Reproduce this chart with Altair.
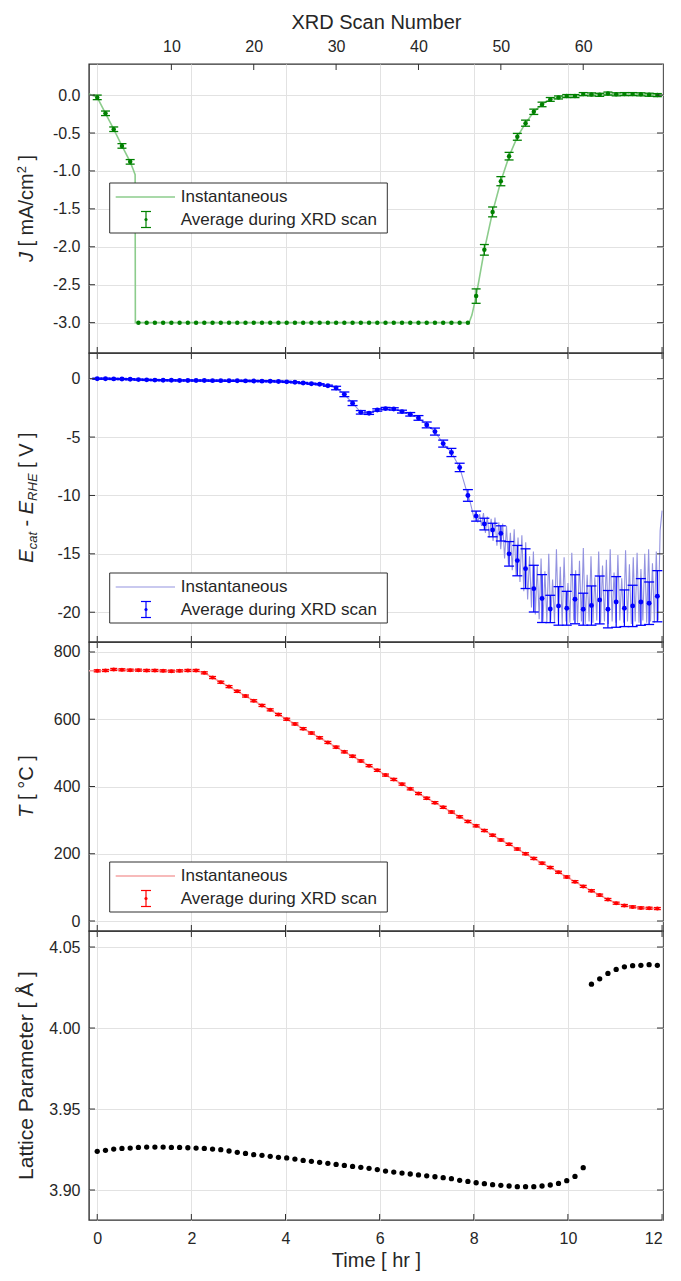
import altair as alt
import pandas as pd

FONT = "Liberation Sans, Arial, Helvetica, sans-serif"
TXT = "#262626"
FRAME = "#303030"
GRID = "#e2e2e2"
W, H = 574, 289
XDOM = [-0.175, 12.02]
XTICKS = [0, 2, 4, 6, 8, 10, 12]

# ---------------- data ----------------
SCAN_INTERVAL_HR = 0.175
scan_number = list(range(1, 70))
time_hr = [round((s - 1) * SCAN_INTERVAL_HR, 4) for s in scan_number]
scan_ticks = [10, 20, 30, 40, 50, 60]

J_avg = [-0.03, -0.24, -0.45, -0.67, -0.88,
         -3.0, -3.0, -3.0, -3.0, -3.0, -3.0, -3.0, -3.0, -3.0, -3.0,
         -3.0, -3.0, -3.0, -3.0, -3.0, -3.0, -3.0, -3.0, -3.0, -3.0,
         -3.0, -3.0, -3.0, -3.0, -3.0, -3.0, -3.0, -3.0, -3.0, -3.0,
         -3.0, -3.0, -3.0, -3.0, -3.0, -3.0, -3.0, -3.0, -3.0, -3.0, -3.0,
         -2.65, -2.04, -1.54, -1.135, -0.805, -0.55, -0.37, -0.22, -0.123, -0.057,
         -0.031, -0.013, -0.013, 0.013, 0.009, 0.004, 0.02, 0.01, 0.013, 0.013,
         0.01, 0.005, 0.0]
J_err = [0.03, 0.03, 0.03, 0.03, 0.03,
         0, 0, 0, 0, 0, 0, 0, 0, 0, 0, 0, 0, 0, 0, 0, 0, 0, 0, 0, 0,
         0, 0, 0, 0, 0, 0, 0, 0, 0, 0, 0, 0, 0, 0, 0, 0, 0, 0, 0, 0, 0,
         0.095, 0.07, 0.065, 0.06, 0.05, 0.045, 0.04, 0.035, 0.03, 0.025,
         0.02, 0.02, 0.02, 0.02, 0.02, 0.02, 0.02, 0.02, 0.02, 0.02,
         0.02, 0.02, 0.02]
J_inst_t = [-0.175, 0.0, 0.175, 0.35, 0.525, 0.70, 0.77, 0.805, 0.81, 7.90, 7.96,
            8.05, 8.225, 8.40, 8.575, 8.75, 8.925, 9.10, 9.275, 9.45, 9.625,
            9.80, 9.975, 10.15, 10.5, 11.0, 11.5, 12.02]
J_inst = [0.013, -0.03, -0.24, -0.45, -0.67, -0.88, -0.99, -1.05, -3.0, -3.0, -2.9,
          -2.65, -2.04, -1.54, -1.135, -0.805, -0.55, -0.37, -0.22, -0.123, -0.057,
          -0.031, -0.013, -0.013, 0.01, 0.01, 0.01, 0.0]

E_avg = [0.0, 0.0, -0.02, -0.03, -0.05, -0.08, -0.10, -0.12, -0.13, -0.14,
         -0.15, -0.15, -0.16, -0.16, -0.17, -0.17, -0.18, -0.18, -0.19, -0.20,
         -0.21, -0.22, -0.24, -0.27, -0.31, -0.37, -0.43, -0.48, -0.60, -0.80,
         -1.34, -2.10, -2.88, -2.96, -2.68, -2.56, -2.59, -2.82, -3.05, -3.36,
         -3.96, -4.53, -5.56, -6.32, -7.60, -10.0, -11.77, -12.45, -12.96, -13.25,
         -15.0, -15.58, -16.27, -17.98, -18.83, -19.72, -19.46, -19.66, -18.89, -19.74,
         -19.43, -18.95, -19.74, -19.12, -19.66, -19.46, -19.12, -19.23, -18.63]
E_err = [0.05, 0.05, 0.05, 0.05, 0.05, 0.05, 0.05, 0.05, 0.05, 0.05,
         0.05, 0.05, 0.05, 0.05, 0.05, 0.05, 0.05, 0.05, 0.05, 0.05,
         0.05, 0.05, 0.05, 0.05, 0.05, 0.05, 0.05, 0.05, 0.05, 0.15,
         0.20, 0.20, 0.15, 0.10, 0.10, 0.10, 0.10, 0.12, 0.15, 0.20,
         0.25, 0.30, 0.30, 0.35, 0.36, 0.50, 0.43, 0.50, 0.58, 0.65,
         1.05, 1.30, 1.70, 2.00, 2.05, 1.17, 1.65, 1.45, 2.10, 1.37,
         1.68, 2.05, 1.60, 2.17, 1.57, 1.77, 2.00, 1.82, 2.19]
# noisy instantaneous potential after ~7.9 h (one reading every ~2.4 min)
E_noise_start, E_noise_step = 7.92, 0.0408
E_noise = [-10.5, -11.2, -11.9, -11.4, -12.3, -11.6, -12.6, -11.5,
           -13.2, -11.8, -13.6, -12.0, -13.9, -11.9, -14.3, -12.3, -14.6, -12.4,
           -15.4, -12.6, -15.9, -13.2, -16.4, -12.9, -16.9, -13.6, -17.4, -13.4,
           -18.2, -14.0, -18.9, -15.2, -19.6, -14.8, -20.2, -16.0, -20.6, -15.4,
           -20.8, -16.5, -20.9, -15.0, -20.7, -17.2, -20.9, -14.6, -20.8, -16.1,
           -21.0, -15.3, -20.8, -17.5, -20.9, -14.9, -20.7, -16.4, -20.9, -15.6,
           -20.8, -14.5, -21.0, -16.8, -20.8, -15.2, -20.9, -17.0, -20.7, -14.8,
           -20.9, -16.0, -20.8, -15.5, -21.0, -14.6, -20.8, -16.6, -20.9, -15.1,
           -20.7, -17.1, -20.9, -14.7, -20.8, -15.9, -21.0, -15.3, -20.8, -14.9,
           -20.9, -16.3, -20.7, -15.0, -20.9, -14.6, -20.8, -15.8, -20.9, -14.8,
           -20.7, -13.0, -11.3]

T_avg = [744, 745, 748, 747, 746, 746, 745, 745, 744, 743, 744, 745, 745, 738,
         724, 710, 697, 683, 669, 655, 641, 628, 614, 600,
         586, 572, 559, 545, 531, 517, 503, 490, 476, 462,
         448, 434, 421, 407, 393, 379, 365, 352, 338, 324,
         310, 296, 283, 269, 255, 241, 228, 214, 200, 186,
         172, 159, 145, 131, 117, 103, 90,
         77, 64, 53, 46, 42, 39, 38, 37]
T_err = [3, 3, 3, 3, 3, 3, 3, 3, 3, 3, 3, 3, 3, 3, 3, 3, 3, 3, 3, 3, 3, 3, 3,
         3, 3, 3, 3, 3, 3, 3, 3, 3, 3, 3, 3, 3, 3, 3, 3, 3, 3, 3, 3, 3, 3, 3,
         3, 3, 3, 3, 3, 3, 3, 3, 3, 3, 3, 3, 3, 3, 3, 3, 3, 3, 3, 3, 3, 3, 3]

lattice = [3.9239, 3.9245, 3.9253, 3.9257, 3.9259, 3.9263, 3.9265, 3.9265, 3.9265, 3.9263,
           3.9263, 3.9261, 3.9259, 3.9257, 3.9253, 3.9249, 3.9241, 3.9233, 3.9226, 3.9218,
           3.9214, 3.9208, 3.9202, 3.9198, 3.9191, 3.9183, 3.9177, 3.9171, 3.9165, 3.9158,
           3.9152, 3.9146, 3.9140, 3.9134, 3.9126, 3.9117, 3.9111, 3.9105, 3.9099, 3.9093,
           3.9088, 3.9082, 3.9076, 3.9070, 3.9060, 3.9053, 3.9045, 3.9039, 3.9033, 3.9029,
           3.9025, 3.9021, 3.9021, 3.9021, 3.9025, 3.9031, 3.9041, 3.9058, 3.9084, 3.9138,
           4.0271, 4.0304, 4.0337, 4.0362, 4.0378, 4.0385, 4.0387, 4.0391, 4.0387]

# ---------------- helpers ----------------
ARIAL = {' ': .278, '[': .278, ']': .278, 'm': .833, 'A': .667, '/': .278, 'c': .5,
         'J': .5, '2': .556, 'E': .667, 'a': .556, 't': .278, '-': .333, 'R': .722,
         'H': .722, 'V': .667, 'T': .611, '°': .4, 'C': .722}


def x_axis(show):
    if show:
        return alt.Axis(values=XTICKS, grid=True, ticks=False, domain=False, labels=True,
                        title="Time [ hr ]", labelPadding=10, titlePadding=4, format="d")
    return alt.Axis(values=XTICKS, grid=True, ticks=False, domain=False, labels=False, title="")


def y_axis(vals, fmt):
    return alt.Axis(values=vals, format=fmt, grid=True, ticks=False, domain=False, title="",
                    labelPadding=9, labelExpr="replace(datum.label, '\u2212', '-')")


class Panel:
    def __init__(self, dom, yaxis, xaxis):
        self.dom, self.yaxis, self.xaxis = dom, yaxis, xaxis

    def X(self, field="t"):
        return alt.X(f"{field}:Q", scale=alt.Scale(domain=XDOM, nice=False, zero=False),
                     axis=self.xaxis)

    def Y(self, field):
        return alt.Y(f"{field}:Q", scale=alt.Scale(domain=self.dom, nice=False, zero=False),
                     axis=self.yaxis)


one = pd.DataFrame({"k": [0]})


def ytitle(segments):
    # segments: (text, size, italic, dy, gap_before_px)
    total = 0
    for txt, size, it, dy, gap in segments:
        total += gap + sum(ARIAL.get(ch, 0.6) for ch in txt) * size
    pos = H / 2 + total / 2
    layers = []
    for txt, size, it, dy, gap in segments:
        pos -= gap
        layers.append(alt.Chart(one).mark_text(
            angle=270, align="left", baseline="alphabetic", font=FONT, fontSize=size,
            fontStyle="italic" if it else "normal", color=TXT, dy=dy
        ).encode(x=alt.value(-56), y=alt.value(pos), text=alt.value(txt)))
        pos -= sum(ARIAL.get(ch, 0.6) for ch in txt) * size
    return layers


def legend(top, line_color, pt_color, line_w=1.5):
    b = alt.Chart(one)
    r2 = top + 36.5
    return [
        b.mark_rect(fill="white", stroke=FRAME, strokeWidth=1).encode(
            x=alt.value(20.7), x2=alt.value(298.3), y=alt.value(top), y2=alt.value(top + 50)),
        b.mark_rule(color=line_color, strokeWidth=line_w).encode(
            x=alt.value(26.7), x2=alt.value(86), y=alt.value(top + 14)),
        b.mark_text(align="left", baseline="middle", font=FONT, fontSize=17, color=TXT).encode(
            x=alt.value(91.7), y=alt.value(top + 14), text=alt.value("Instantaneous")),
        b.mark_rule(color=pt_color, strokeWidth=1.2).encode(
            x=alt.value(57), y=alt.value(r2 - 8), y2=alt.value(r2 + 8)),
        b.mark_rule(color=pt_color, strokeWidth=1.2).encode(
            x=alt.value(52), x2=alt.value(62), y=alt.value(r2 - 8)),
        b.mark_rule(color=pt_color, strokeWidth=1.2).encode(
            x=alt.value(52), x2=alt.value(62), y=alt.value(r2 + 8)),
        b.mark_circle(size=10, color=pt_color, opacity=1).encode(
            x=alt.value(57), y=alt.value(r2)),
        b.mark_text(align="left", baseline="middle", font=FONT, fontSize=17, color=TXT).encode(
            x=alt.value(91.7), y=alt.value(r2), text=alt.value("Average during XRD scan")),
    ]


def inward_ticks(P, yvals, top=True):
    xt = pd.DataFrame({"t": XTICKS})
    yt = pd.DataFrame({"v": yvals})
    L = [alt.Chart(xt).mark_rule(color=FRAME, strokeWidth=1).encode(
        x=P.X(), y=alt.value(H), y2=alt.value(H - 6))]
    if top:
        L.append(alt.Chart(xt).mark_rule(color=FRAME, strokeWidth=1).encode(
            x=P.X(), y=alt.value(0), y2=alt.value(6)))
    L.append(alt.Chart(yt).mark_rule(color=FRAME, strokeWidth=1).encode(
        y=P.Y("v"), x=alt.value(0), x2=alt.value(6)))
    L.append(alt.Chart(yt).mark_rule(color=FRAME, strokeWidth=1).encode(
        y=P.Y("v"), x=alt.value(W), x2=alt.value(W - 6)))
    return L


def errbars(P, df, color, cap):
    d = df[df["err"] > 0].copy()
    d["lo"] = d["y"] - d["err"]
    d["hi"] = d["y"] + d["err"]
    base = alt.Chart(d)
    return [
        base.mark_rule(color=color, strokeWidth=1.2).encode(x=P.X(), y=P.Y("lo"), y2="hi:Q"),
        base.mark_point(shape="M-1,0L1,0", size=cap * cap, filled=False, color=color,
                        strokeWidth=1.3, opacity=1).encode(x=P.X(), y=P.Y("lo")),
        base.mark_point(shape="M-1,0L1,0", size=cap * cap, filled=False, color=color,
                        strokeWidth=1.3, opacity=1).encode(x=P.X(), y=P.Y("hi")),
    ]


# ---------------- panel 1: current density ----------------
J_TICKS = [-3.0, -2.5, -2.0, -1.5, -1.0, -0.5, 0.0]
P1 = Panel([-3.40, 0.41], y_axis(J_TICKS, ".1f"), x_axis(False))
dfJ = pd.DataFrame({"t": time_hr, "y": J_avg, "err": J_err})
dfJi = pd.DataFrame({"t": J_inst_t, "y": J_inst})
G_LINE, G_PT = "#8ccc8c", "#008000"
p1_inner = alt.layer(
    alt.Chart(dfJi).mark_line(color=G_LINE, strokeWidth=1.6).encode(x=P1.X(), y=P1.Y("y")),
    *errbars(P1, dfJ, G_PT, 9),
    alt.Chart(dfJ).mark_circle(size=20, color=G_PT, opacity=1).encode(x=P1.X(), y=P1.Y("y")),
    *inward_ticks(P1, J_TICKS, top=False),
    *legend(119, G_LINE, G_PT),
    *ytitle([("J", 20, True, 0, 0), ("[ mA/cm", 20, False, 0, 5.56),
             ("2", 13, False, -7, 0), ("]", 20, False, 0, 5.56)]),
)
scan_layer = alt.Chart(pd.DataFrame({"scan": scan_ticks})).mark_rule(color=FRAME, strokeWidth=1).encode(
    x=alt.X("scan:Q", scale=alt.Scale(domain=[0.0, 69.686], nice=False, zero=False),
            axis=alt.Axis(orient="top", values=scan_ticks, grid=False, ticks=False, domain=False,
                          title="XRD Scan Number", labelPadding=10, titlePadding=6, format="d")),
    y=alt.value(0), y2=alt.value(6))
p1 = alt.layer(p1_inner, scan_layer).resolve_scale(x="independent").properties(width=W, height=H)

# ---------------- panel 2: potential ----------------
E_TICKS = [-20, -15, -10, -5, 0]
P2 = Panel([-22.55, 2.2], y_axis(E_TICKS, "d"), x_axis(False))
dfE = pd.DataFrame({"t": time_hr, "y": E_avg, "err": E_err})
E_inst_t = [-0.175] + time_hr[:46] + [round(E_noise_start + k * E_noise_step, 4) for k in range(len(E_noise))]
E_inst = [0.02] + E_avg[:46] + E_noise
dfEi = pd.DataFrame({"t": E_inst_t, "y": E_inst})
B_LINE, B_PT = "#9393e0", "#0000ff"
p2 = alt.layer(
    alt.Chart(dfEi).mark_line(color=B_LINE, strokeWidth=1.1).encode(x=P2.X(), y=P2.Y("y")),
    *errbars(P2, dfE, B_PT, 10),
    alt.Chart(dfE).mark_circle(size=24, color=B_PT, opacity=1).encode(x=P2.X(), y=P2.Y("y")),
    *inward_ticks(P2, E_TICKS),
    *legend(220, B_LINE, B_PT, 1.1),
    *ytitle([("E", 20, True, 0, 0), ("cat", 13, True, 4, 0), ("-", 20, False, 0, 5.56),
             ("E", 20, True, 0, 5.56), ("RHE", 13, True, 4, 0), ("[ V ]", 20, False, 0, 5.56)]),
).properties(width=W, height=H)

# ---------------- panel 3: temperature ----------------
T_TICKS = [0, 200, 400, 600, 800]
P3 = Panel([-29.7, 829.7], y_axis(T_TICKS, "d"), x_axis(False))
dfT = pd.DataFrame({"t": time_hr, "y": T_avg, "err": T_err})
dfTi = pd.DataFrame({"t": [-0.175] + time_hr, "y": [744] + T_avg})
R_LINE, R_PT = "#f4a3a3", "#ff0000"
p3 = alt.layer(
    alt.Chart(dfTi).mark_line(color=R_LINE, strokeWidth=1.6).encode(x=P3.X(), y=P3.Y("y")),
    *errbars(P3, dfT, R_PT, 7),
    alt.Chart(dfT).mark_circle(size=16, color=R_PT, opacity=1).encode(x=P3.X(), y=P3.Y("y")),
    *inward_ticks(P3, T_TICKS),
    *legend(220, R_LINE, R_PT),
    *ytitle([("T", 20, True, 0, 0), ("[ °C ]", 20, False, 0, 5.56)]),
).properties(width=W, height=H)

# ---------------- panel 4: lattice parameter ----------------
A_TICKS = [3.90, 3.95, 4.00, 4.05]
P4 = Panel([3.8815, 4.0599], y_axis(A_TICKS, ".2f"), x_axis(True))
dfA = pd.DataFrame({"t": time_hr, "y": lattice})
p4 = alt.layer(
    alt.Chart(dfA).mark_circle(size=28, color="#000000", opacity=1).encode(x=P4.X(), y=P4.Y("y")),
    *inward_ticks(P4, A_TICKS),
    alt.Chart(one).mark_text(angle=270, align="center", baseline="alphabetic", font=FONT,
                             fontSize=21, color=TXT).encode(
        x=alt.value(-56), y=alt.value(H / 2), text=alt.value("Lattice Parameter [ Å ]")),
).properties(width=W, height=H)

chart = alt.vconcat(p1, p2, p3, p4, spacing=0, bounds="flush").resolve_scale(
    x="independent", y="independent"
).configure_view(stroke=FRAME, strokeWidth=1.4).configure_axis(
    labelFont=FONT, labelFontSize=16, labelColor=TXT, titleFont=FONT, titleFontSize=20,
    titleColor=TXT, titleFontWeight="normal", gridColor=GRID, gridWidth=1
).properties(padding={"left": 7, "top": 3, "right": 0, "bottom": 0})

chart.save("out.html", embed_options={"renderer": "svg", "actions": False})
